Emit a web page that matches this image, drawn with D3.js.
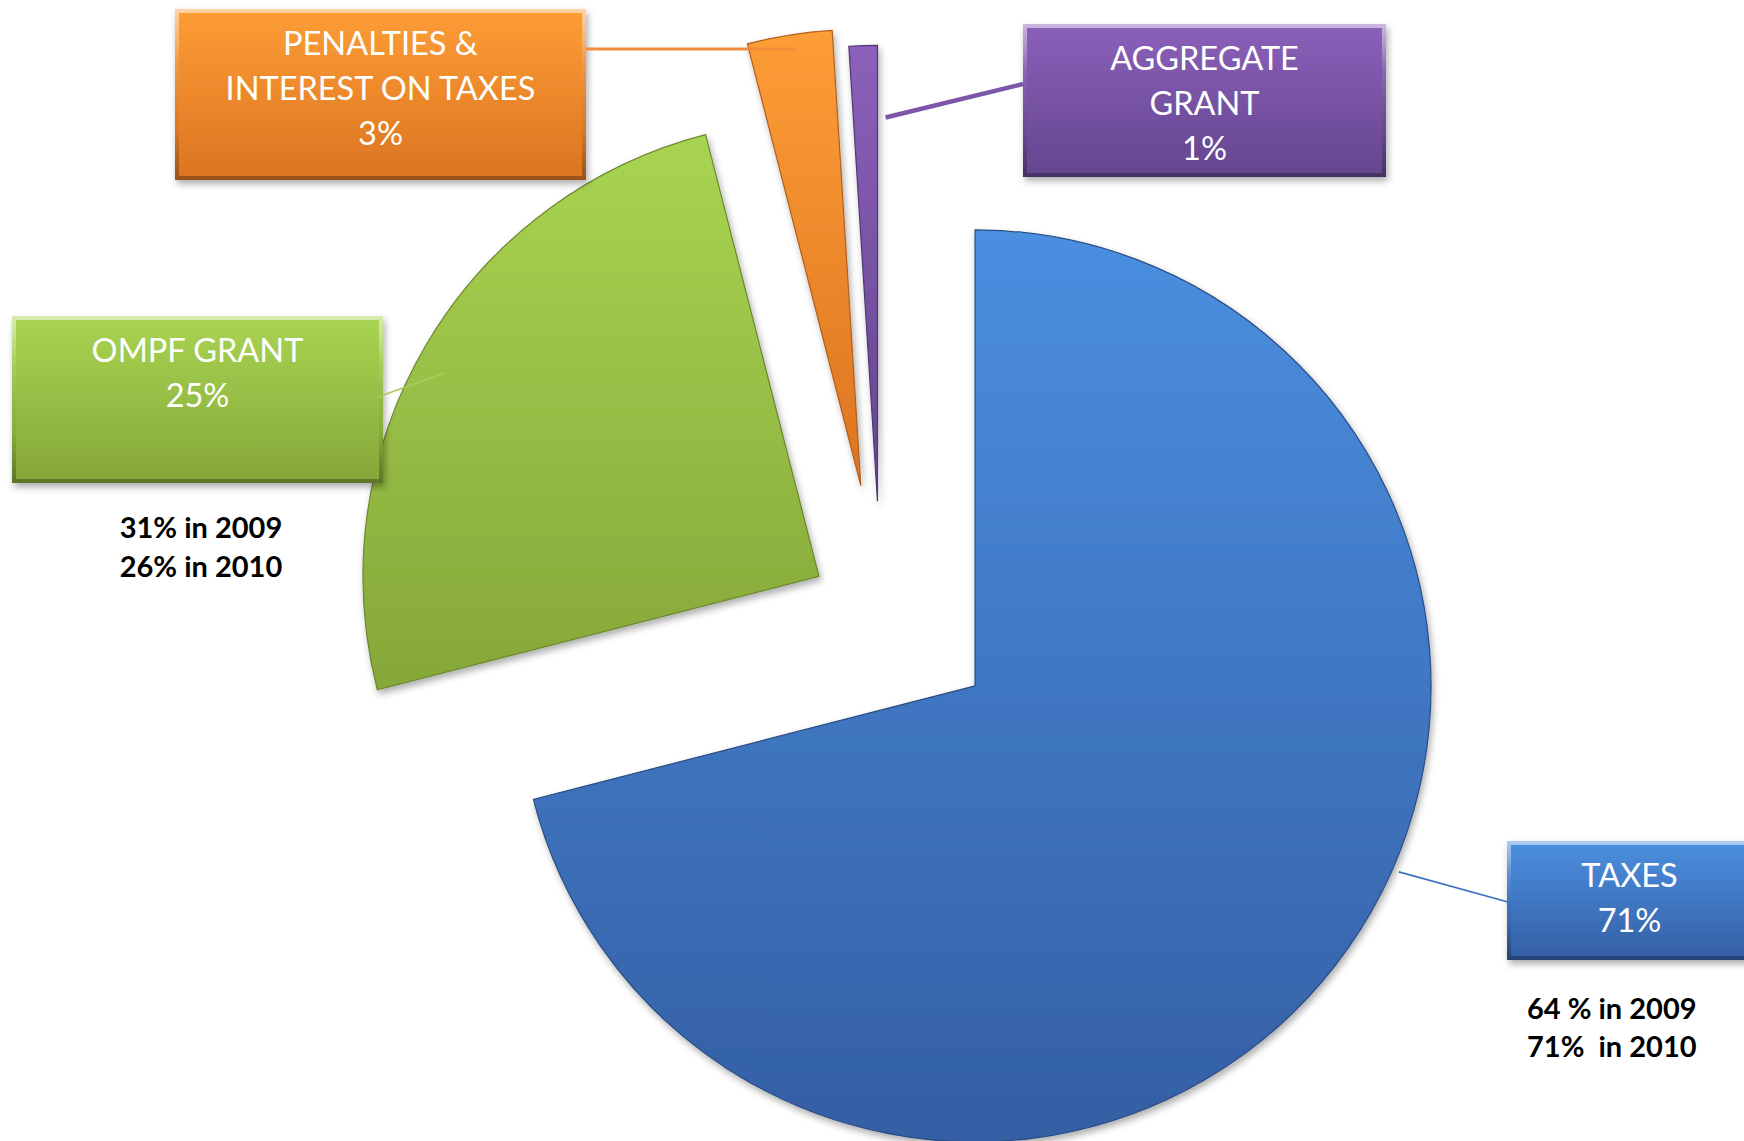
<!DOCTYPE html>
<html><head><meta charset="utf-8">
<script src="https://cdn.jsdelivr.net/npm/d3@7"></script>
<style>
html,body{margin:0;padding:0;background:#fff;}
svg{display:block;}
text{font-family: Lato, "Open Sans", sans-serif;}
</style></head><body>
<svg id="chart" width="1744" height="1141"></svg>
<script>
// ---------- data ----------
const categories = ["TAXES", "OMPF GRANT", "PENALTIES & INTEREST ON TAXES", "AGGREGATE GRANT"];
const values = [71, 25, 3, 1];
const labelLines = [["TAXES"], ["OMPF GRANT"], ["PENALTIES &", "INTEREST ON TAXES"], ["AGGREGATE", "GRANT"]];
const explodeFractions = [0.261, 0.158, 0.283, 0.245];
const notesTaxes = ["64 % in 2009", "71%  in 2010"];
const notesOmpf = ["31% in 2009", "26% in 2010"];
const colorsLight = ["#4b8fe0", "#a9d451", "#fd9d36", "#8b60ba"];
const colorsDark = ["#345fa4", "#85a739", "#dc7421", "#64458e"];
const leaderColors = ["#3d72bf", "#a8cc5a", "#f28c3c", "#7b56a9"];
const leaderWidths = [1.8, 1.6, 3, 4.5];

// ---------- layout ----------
const W = 1744, H = 1141;
const cx = 881, cy = 613, R = 456;
// label boxes [x, y, w, h]
const boxes = [[1507, 841, 245, 119], [12, 316, 371, 167], [175, 9, 411, 171], [1023, 24, 363, 153]];
// leader: slice side [angle deg, radius factor], box side [x,y]
const leaderSlice = [[113.7, 1.015], [298.6, 0.933], [351.4, 0.968], [1.2, 0.842]];
const leaderBox = [[1508, 902], [375, 398], [586, 49], [1023, 84]];

const svg = d3.select("#chart");
const defs = svg.append("defs");

const shadow = defs.append("filter").attr("id", "shadow")
  .attr("x", "-50%").attr("y", "-20%").attr("width", "200%").attr("height", "140%");
shadow.append("feDropShadow").attr("dx", 2).attr("dy", 4).attr("stdDeviation", 3.5)
  .attr("flood-color", "#000").attr("flood-opacity", 0.32);

values.forEach((v, i) => {
  const g = defs.append("linearGradient").attr("id", "grad" + i)
    .attr("x1", 0).attr("y1", 0).attr("x2", 0).attr("y2", 1);
  g.append("stop").attr("offset", "0%").attr("stop-color", colorsLight[i]);
  g.append("stop").attr("offset", "100%").attr("stop-color", colorsDark[i]);
});
const bevel = defs.append("linearGradient").attr("id", "bevel")
  .attr("x1", 0).attr("y1", 0).attr("x2", 0).attr("y2", 1);
bevel.append("stop").attr("offset", "0%").attr("stop-color", "#fff").attr("stop-opacity", 0.55);
bevel.append("stop").attr("offset", "30%").attr("stop-color", "#fff").attr("stop-opacity", 0.1);
bevel.append("stop").attr("offset", "70%").attr("stop-color", "#000").attr("stop-opacity", 0.05);
bevel.append("stop").attr("offset", "100%").attr("stop-color", "#000").attr("stop-opacity", 0.3);

const pie = d3.pie().sort(null).value(d => d)(values);
const arc = d3.arc().innerRadius(0).outerRadius(R);

const offsets = pie.map((p, i) => {
  const mid = (p.startAngle + p.endAngle) / 2;
  const e = explodeFractions[i] * R;
  return [e * Math.sin(mid), -e * Math.cos(mid)];
});

const slices = svg.append("g").attr("transform", `translate(${cx},${cy})`);
pie.forEach((p, i) => {
  const g = slices.append("g").attr("transform", `translate(${offsets[i][0]},${offsets[i][1]})`);
  const d = arc(p);
  defs.append("clipPath").attr("id", "clip" + i).append("path").attr("d", d)
    .attr("transform", `translate(${cx + offsets[i][0]},${cy + offsets[i][1]})`);
  g.append("path").attr("d", d).attr("fill", `url(#grad${i})`)
    .attr("stroke", d3.color(colorsDark[i]).darker(0.6)).attr("stroke-width", 1.2)
    .attr("filter", "url(#shadow)");
  svg.append("path").attr("d", d)
    .attr("transform", `translate(${cx + offsets[i][0]},${cy + offsets[i][1]})`)
    .attr("fill", "none").attr("stroke", "url(#bevel)").attr("stroke-width", 9)
    .attr("clip-path", `url(#clip${i})`);
});

// label boxes
boxes.forEach((b, i) => {
  const [x, y, w, h] = b;
  defs.append("clipPath").attr("id", "bclip" + i).append("rect")
    .attr("x", x).attr("y", y).attr("width", w).attr("height", h);
  svg.append("rect").attr("x", x).attr("y", y).attr("width", w).attr("height", h)
    .attr("fill", `url(#grad${i})`).attr("filter", "url(#shadow)");
  svg.append("rect").attr("x", x).attr("y", y).attr("width", w).attr("height", h)
    .attr("fill", "none").attr("stroke", "url(#bevel)").attr("stroke-width", 8)
    .attr("clip-path", `url(#bclip${i})`);
  const lines = labelLines[i].concat([values[i] + "%"]);
  const t = svg.append("text").attr("text-anchor", "middle").attr("fill", "#fff")
    .attr("font-size", 32.5);
  lines.forEach((ln, k) => {
    t.append("tspan").attr("x", x + w / 2).attr("y", y + 46 + 45 * k).text(ln);
  });
});

// leader lines
pie.forEach((p, i) => {
  const a = leaderSlice[i][0] * Math.PI / 180, f = leaderSlice[i][1];
  const sx = cx + offsets[i][0] + f * R * Math.sin(a);
  const sy = cy + offsets[i][1] - f * R * Math.cos(a);
  svg.append("line").attr("x1", sx).attr("y1", sy)
    .attr("x2", leaderBox[i][0]).attr("y2", leaderBox[i][1])
    .attr("stroke", leaderColors[i]).attr("stroke-width", leaderWidths[i]);
});

// notes
const n1 = svg.append("text").attr("text-anchor", "middle").attr("font-weight", 700)
  .attr("font-size", 29).attr("fill", "#000");
notesOmpf.forEach((t, k) => n1.append("tspan").attr("x", 201).attr("y", 538 + 39 * k).text(t));
const n2 = svg.append("text").attr("text-anchor", "start").attr("font-weight", 700)
  .attr("font-size", 29).attr("fill", "#000").style("white-space", "pre");
notesTaxes.forEach((t, k) => n2.append("tspan").attr("x", 1527).attr("y", 1019 + 38 * k).text(t));
</script>
</body></html>
